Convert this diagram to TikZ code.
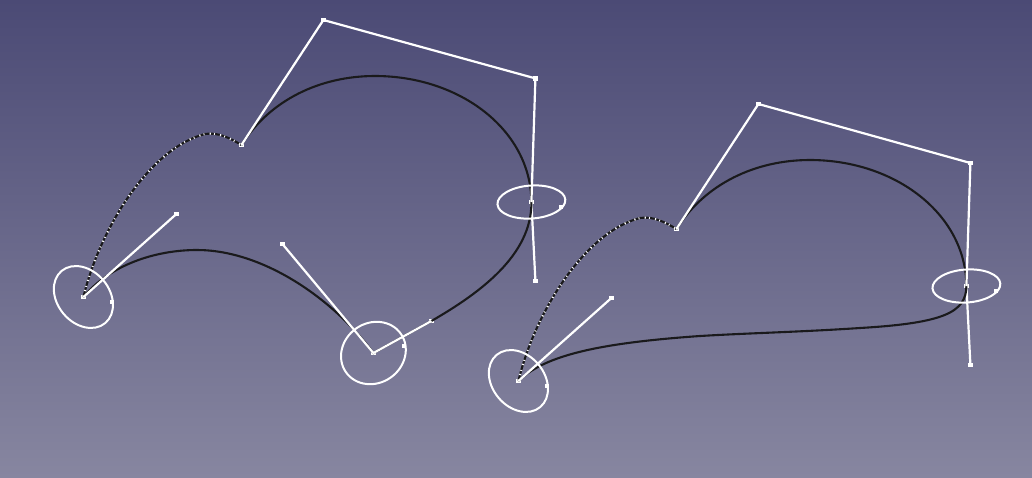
\documentclass[tikz,border=0pt]{standalone}
\definecolor{bgtop}{RGB}{75,74,117}
\definecolor{bgbot}{RGB}{135,134,160}
\definecolor{curveblack}{RGB}{26,26,28}
\tikzset{
  x=1pt,y=-1pt,
  knot/.style={rectangle,fill=white,draw=none,minimum size=4.4pt,inner sep=0pt,outer sep=0pt},
  handle/.style={draw=white,line width=2.2pt},
  ring/.style={draw=white,line width=2pt},
  curve/.style={draw=curveblack,line width=2.1pt},
  selcurve/.style={draw=white,line width=2.1pt,dash pattern=on 0.9pt off 5.2pt on 1.2pt off 3.2pt}
}
\begin{document}
\begin{tikzpicture}
\useasboundingbox (0,0) rectangle (1032,477);
\shade[top color=bgtop,bottom color=bgbot,draw=none] (0,0) rectangle (1032,477);
% left figure
\node[knot] (a0) at (83.4,297) {};
\node[knot] (a1) at (241.4,145) {};
\node[knot] (a2) at (531.4,202) {};
\node[knot] (a3) at (373.4,353) {};
\node[knot] (h1) at (176.4,214) {};
\node[knot] (h2) at (323.4,20) {};
\node[knot] (h3) at (535.4,78.4) {};
\node[knot] (h4) at (535.4,281) {};
\node[knot] (h5) at (431.4,321) {};
\node[knot] (h6) at (282.4,244) {};
\node[knot] (r1) at (112,302) {};
\node[knot] (r2) at (404,346) {};
\node[knot] (r3) at (561,207) {};
\draw[handle] (a2.center) -- (h4.center);
\draw[curve] (a1.center) .. controls (270,100) and (320,76) .. (375,76) .. controls (460,76) and (531,130) .. (a2.center) .. controls (532,255) and (480,293) .. (h5.center) -- (a3.center) .. controls (330,295) and (260,250) .. (197,250) .. controls (155,250) and (110,265) .. (a0.center);
\path[curve,postaction={selcurve,draw}] (a0.center) .. controls (100,228) and (150,148) .. (205,134) .. controls (218,132) and (230,138) .. (a1.center);
\draw[handle] (a0.center) -- (h1.center);
\draw[handle] (a1.center) -- (h2.center) -- (h3.center) -- (a2.center);
\draw[handle] (h6.center) -- (a3.center) -- (h5.center);
\draw[ring,rotate around={-50:(a0.center)}] (a0.center) circle [x radius=34,y radius=26];
\draw[ring,rotate around={35:(a3.center)}] (a3.center) circle [x radius=33.5,y radius=30];
\draw[ring,rotate around={4:(a2.center)}] (a2.center) circle [x radius=34,y radius=16.5];
% right figure
\node[knot] (b0) at (518.4,381) {};
\node[knot] (b1) at (676.4,229) {};
\node[knot] (b2) at (966.4,286) {};
\node[knot] (k1) at (611.4,298) {};
\node[knot] (k2) at (758.4,104) {};
\node[knot] (k3) at (970.4,163) {};
\node[knot] (k4) at (970.4,365) {};
\node[knot] (s1) at (547,386) {};
\node[knot] (s3) at (996,291) {};
\draw[handle] (b2.center) -- (k4.center);
\draw[curve] (b1.center) .. controls (705,184) and (755,160) .. (810,160) .. controls (895,160) and (966,214) .. (b2.center) .. controls (966,312) and (945,323) .. (860,328) .. controls (800,332) and (750,333) .. (700,336) .. controls (600,343) and (545,355) .. (b0.center);
\path[curve,postaction={selcurve,draw}] (b0.center) .. controls (535,312) and (585,232) .. (640,218) .. controls (653,216) and (665,222) .. (b1.center);
\draw[handle] (b0.center) -- (k1.center);
\draw[handle] (b1.center) -- (k2.center) -- (k3.center) -- (b2.center);
\draw[ring,rotate around={-50:(b0.center)}] (b0.center) circle [x radius=34,y radius=26];
\draw[ring,rotate around={4:(b2.center)}] (b2.center) circle [x radius=34,y radius=16.5];
\end{tikzpicture}
\end{document}
